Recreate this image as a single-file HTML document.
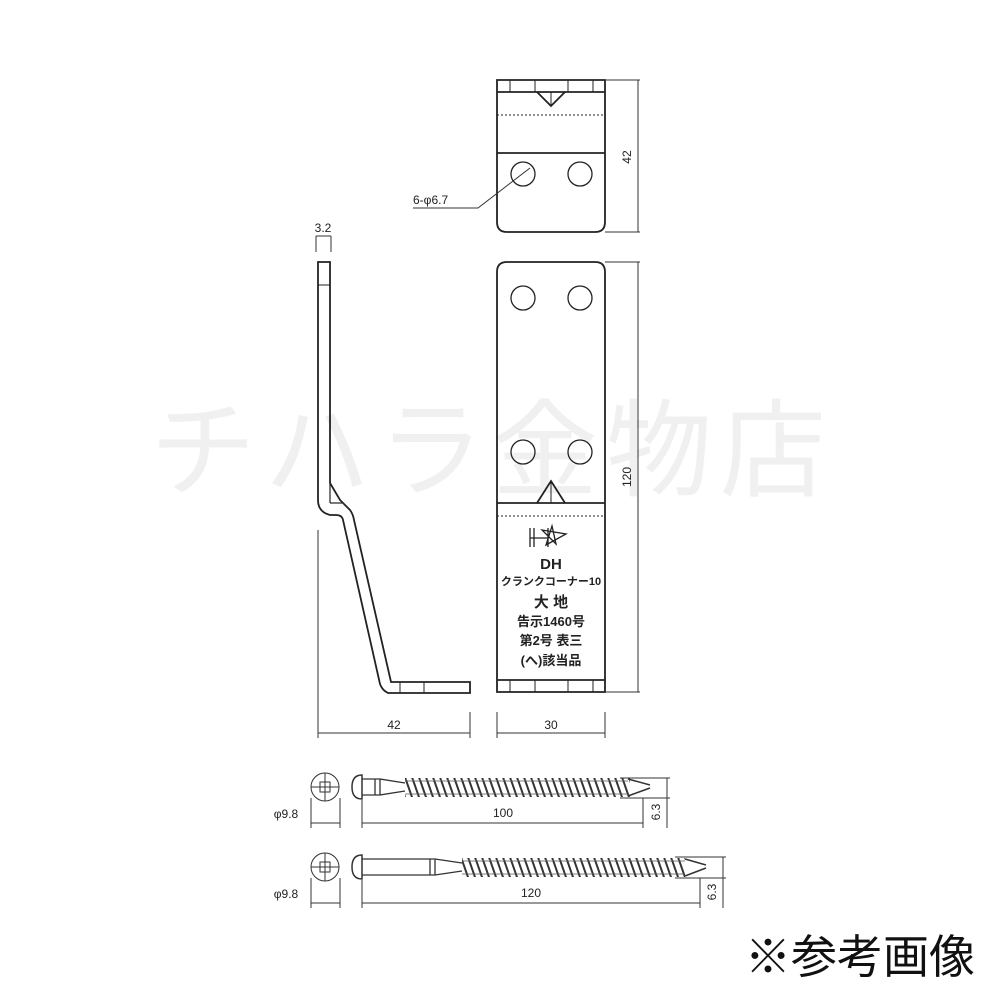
<!DOCTYPE html>
<html><head><meta charset="utf-8"><style>
body{margin:0;background:#fff}
svg{display:block}
text{font-family:"Liberation Sans","Noto Sans CJK JP",sans-serif;fill:#222}
</style></head><body>
<svg width="1000" height="1000" viewBox="0 0 1000 1000" xmlns="http://www.w3.org/2000/svg">
<defs>
<pattern id="th" width="7" height="20" patternUnits="userSpaceOnUse" y="0">
<path d="M0,0 L7,20 M-7,0 L0,20 M7,0 L14,20" stroke="#333" stroke-width="2"/>
</pattern>
</defs>
<text x="492" y="488" font-size="106" text-anchor="middle" style="fill:#f0f0f0" letter-spacing="8">チハラ金物店</text>
<g fill="none" stroke="#222" stroke-width="1.8">
<path d="M497,80 H605 V222 Q605,232 595,232 H507 Q497,232 497,222 Z"/>
<line x1="497" y1="92" x2="605" y2="92"/>
<line x1="510" y1="80" x2="510" y2="92" stroke-width="1"/><line x1="535" y1="80" x2="535" y2="92" stroke-width="1"/><line x1="568" y1="80" x2="568" y2="92" stroke-width="1"/><line x1="593" y1="80" x2="593" y2="92" stroke-width="1"/>
<path d="M537,92 L551,106 L565,92"/>
<line x1="551" y1="92" x2="551" y2="106" stroke-width="1"/>
<line x1="497" y1="115" x2="605" y2="115" stroke-dasharray="2,2" stroke-width="1"/>
<line x1="497" y1="153" x2="605" y2="153"/>
<circle cx="523" cy="174" r="12" stroke-width="1.3"/><circle cx="580" cy="174" r="12" stroke-width="1.3"/>
<path d="M507,262 H595 Q605,262 605,272 V692 H497 V272 Q497,262 507,262 Z"/>
<circle cx="523" cy="298" r="12" stroke-width="1.3"/><circle cx="580" cy="298" r="12" stroke-width="1.3"/>
<circle cx="523" cy="452" r="12" stroke-width="1.3"/><circle cx="580" cy="452" r="12" stroke-width="1.3"/>
<path d="M537,503 L551,481 L565,503"/>
<line x1="551" y1="481" x2="551" y2="503" stroke-width="1"/>
<line x1="497" y1="503" x2="605" y2="503"/>
<line x1="497" y1="516" x2="605" y2="516" stroke-dasharray="2,2" stroke-width="1"/>
<line x1="497" y1="680" x2="605" y2="680"/>
<line x1="510" y1="680" x2="510" y2="692" stroke-width="1"/><line x1="535" y1="680" x2="535" y2="692" stroke-width="1"/><line x1="568" y1="680" x2="568" y2="692" stroke-width="1"/><line x1="593" y1="680" x2="593" y2="692" stroke-width="1"/>
<path d="M318,262 H330 V483 L340,500 Q346,506 350,510 Q353,514 354,520 L391,682 H470 V693 H388 Q382,690 380,684 L343,520 Q342,515 336,515 H330 Q318,512 318,500 Z"/>
<line x1="330" y1="483" x2="330" y2="503" stroke-width="1.2"/>
<line x1="330" y1="503" x2="342" y2="503" stroke-width="1.2"/>
<line x1="318" y1="285" x2="330" y2="285" stroke-width="1"/>
<line x1="400" y1="682" x2="400" y2="693" stroke-width="1"/><line x1="424" y1="682" x2="424" y2="693" stroke-width="1"/>
</g>
<g fill="none" stroke="#333" stroke-width="1">
<path d="M605,80 H640 M605,232 H640 M638,80 V232"/>
<path d="M605,262 H640 M605,692 H640 M638,262 V692"/>
<path d="M497,712 V738 M605,712 V738 M497,733 H605"/>
<path d="M318,530 V738 M470,712 V738 M318,733 H470"/>
<path d="M316,236 V252 M331,236 V252 M316,236 H331"/>
<path d="M413,208 H478 L530,168"/>
<circle cx="325" cy="787" r="14"/><path d="M311,787 H339 M325,773 V801"/><rect x="320" y="782" width="10" height="10"/>
<path d="M311,798 V828 M340,798 V828 M311,823 H340"/>
<path d="M362,775 Q352,775 352,787 Q352,799 362,799 Z" stroke-width="1.5"/>
<path d="M362,779 H380 L405,783 M362,795 H380 L405,791 M375,779 V795 M380,779 V795" stroke-width="1.3"/>
<path d="M362,800 V828 M643,798 V828 M362,823 H643"/>
<path d="M620,778 H670 M620,798 H670 M667,778 V828"/>
<circle cx="325" cy="867" r="14"/><path d="M311,867 H339 M325,853 V881"/><rect x="320" y="862" width="10" height="10"/>
<path d="M311,878 V908 M340,878 V908 M311,903 H340"/>
<path d="M362,855 Q352,855 352,867 Q352,879 362,879 Z" stroke-width="1.5"/>
<path d="M362,859 H435 L462,863 M362,875 H435 L462,871 M430,859 V875 M435,859 V875" stroke-width="1.3"/>
<path d="M362,880 V908 M700,878 V908 M362,903 H700"/>
<path d="M675,857 H726 M675,878 H726 M723,857 V908"/>
</g>
<rect x="405" y="778" width="225" height="19" fill="url(#th)"/>
<path d="M405,781 H628 M405,794 H628" stroke="#555" stroke-width="0.8"/>
<path d="M628,779 L650,785 M628,796 L650,788" stroke="#333" stroke-width="1.5"/>
<rect x="462" y="858" width="223" height="19" fill="url(#th)"/>
<path d="M462,861 H685 M462,874 H685" stroke="#555" stroke-width="0.8"/>
<path d="M685,859 L706,865 M685,876 L706,868" stroke="#333" stroke-width="1.5"/>
<g font-size="12">
<text x="628" y="157" transform="rotate(-90 628 157)" text-anchor="middle" dominant-baseline="middle">42</text>
<text x="628" y="477" transform="rotate(-90 628 477)" text-anchor="middle" dominant-baseline="middle">120</text>
<text x="551" y="729" text-anchor="middle">30</text>
<text x="394" y="729" text-anchor="middle">42</text>
<text x="323" y="232" text-anchor="middle">3.2</text>
<text x="413" y="204">6-φ6.7</text>
<text x="503" y="817" text-anchor="middle">100</text>
<text x="531" y="897" text-anchor="middle">120</text>
<text x="286" y="818" text-anchor="middle">φ9.8</text>
<text x="286" y="898" text-anchor="middle">φ9.8</text>
<text x="657" y="812" transform="rotate(-90 657 812)" text-anchor="middle" dominant-baseline="middle">6.3</text>
<text x="713" y="892" transform="rotate(-90 713 892)" text-anchor="middle" dominant-baseline="middle">6.3</text>
</g>
<g stroke="#222" stroke-width="1.3" fill="none">
<path d="M530,528 V547 M534,528 V547 M530,538 H548 M548,528 V547 M542,530 L566,534 L546,545 L552,526 L556,544 Z"/>
</g>
<g font-size="13" font-weight="bold" text-anchor="middle">
<text x="551" y="569" font-size="15">DH</text>
<text x="551" y="585" font-size="11">クランクコーナー10</text>
<text x="551" y="607" font-size="15">大  地</text>
<text x="551" y="626">告示1460号</text>
<text x="551" y="645">第2号 表三</text>
<text x="551" y="665">(へ)該当品</text>
</g>
<text x="975" y="973" font-size="46" text-anchor="end" style="fill:#111">※参考画像</text>
</svg>
</body></html>
